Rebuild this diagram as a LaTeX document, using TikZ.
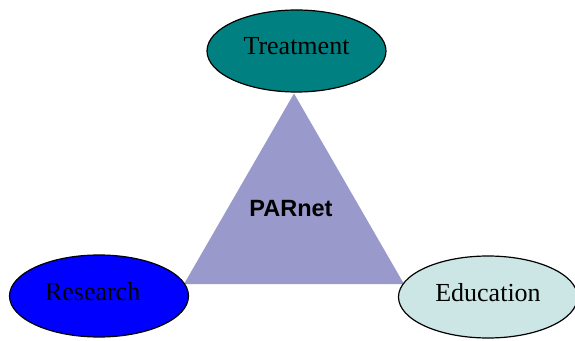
\documentclass[tikz,border=0pt]{standalone}
\usepackage{fontspec}
\setmainfont{Liberation Serif}
\newfontfamily\hubfont{Liberation Sans}
\usetikzlibrary{shapes.geometric}
\definecolor{treatcol}{RGB}{0,128,128}
\definecolor{educol}{RGB}{204,230,230}
\definecolor{hubcol}{RGB}{153,153,204}

\begin{document}
\begin{tikzpicture}[
      x=1pt,y=1pt,
      area/.style={ellipse,draw=black,line width=1.2pt,minimum width=179pt,minimum height=82pt,
        inner sep=0pt,text depth=10pt,font=\fontsize{26}{30}\selectfont},
      hubshape/.style={regular polygon,regular polygon sides=3,fill=hubcol,draw=none,
        minimum size=254pt,inner sep=0pt,outer sep=0pt},
      hubtext/.style={font=\hubfont\bfseries\fontsize{23.5}{28}\selectfont,inner sep=0pt}
      ]
      \useasboundingbox (0,0) rectangle (575,340);
      % the centre triangle
      \node[hubshape] (hub) at (294,119.5) {};
      \node[hubtext] (name) at (291,131) {PARnet};
      % the three corners
      \node[area,fill=treatcol] (treatment) at (296.5,289) {Treatment};
      \node[area,fill=blue,text width=108pt,align=left] (research) at (99,44) {Research};
      \node[area,fill=educol] (education) at (488,43) {Education};
    \end{tikzpicture}
\end{document}
